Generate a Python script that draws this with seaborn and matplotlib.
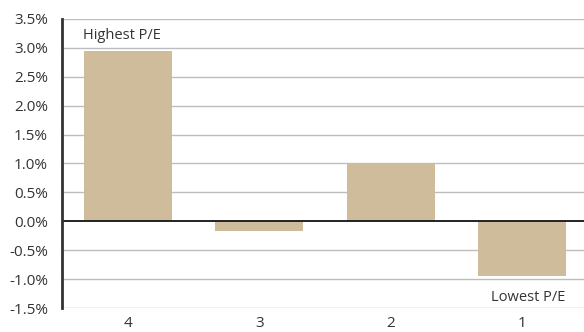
import matplotlib
matplotlib.use("Agg")
import matplotlib.pyplot as plt
import seaborn as sns
import pandas as pd

categories = ["4", "3", "2", "1"]
values = [2.94, -0.16, 1.00, -0.94]
yticks = [-1.5, -1.0, -0.5, 0.0, 0.5, 1.0, 1.5, 2.0, 2.5, 3.0, 3.5]

sns.set_theme(style="white")
plt.rcParams['font.family'] = ['Open Sans', 'DejaVu Sans']

df = pd.DataFrame({"quartile": categories, "ret": values})

fig = plt.figure(figsize=(5.84, 3.32), dpi=100)
ax = fig.add_axes([62/584, 1 - 308/332, 522/584, (308-19)/332])

sns.barplot(data=df, x="quartile", y="ret", order=categories, color="#CEBC9A",
            saturation=1, width=0.67, ax=ax, zorder=3, edgecolor="none")

ax.set_ylim(-1.5, 3.5)
ax.set_xlim(-0.5, 3.47)
ax.set_yticks(yticks)
ax.set_yticklabels([f"{t:.1f}%" for t in yticks])
for t in yticks:
    if t != 0:
        ax.axhline(t, color="#BDBDBD", lw=1.0, zorder=1)
ax.axhline(0, color="#222222", lw=1.4, zorder=4)

for s in ["top", "right", "bottom"]:
    ax.spines[s].set_visible(False)
ax.spines["left"].set_color("#333333")
ax.spines["left"].set_linewidth(2)
ax.spines["left"].set_zorder(5)

ax.set_xlabel("")
ax.set_ylabel("")
ax.tick_params(axis="y", labelsize=11, colors="#333333", length=0, pad=10)
ax.tick_params(axis="x", labelsize=11, colors="#333333", length=0, pad=6)

ax.text(-0.34, 3.22, "Highest P/E", fontsize=10.5, color="#333333", va="center", ha="left")
ax.text(3.33, -1.31, "Lowest P/E", fontsize=10.5, color="#333333", va="center", ha="right")

fig.savefig("out.png", dpi=100)
